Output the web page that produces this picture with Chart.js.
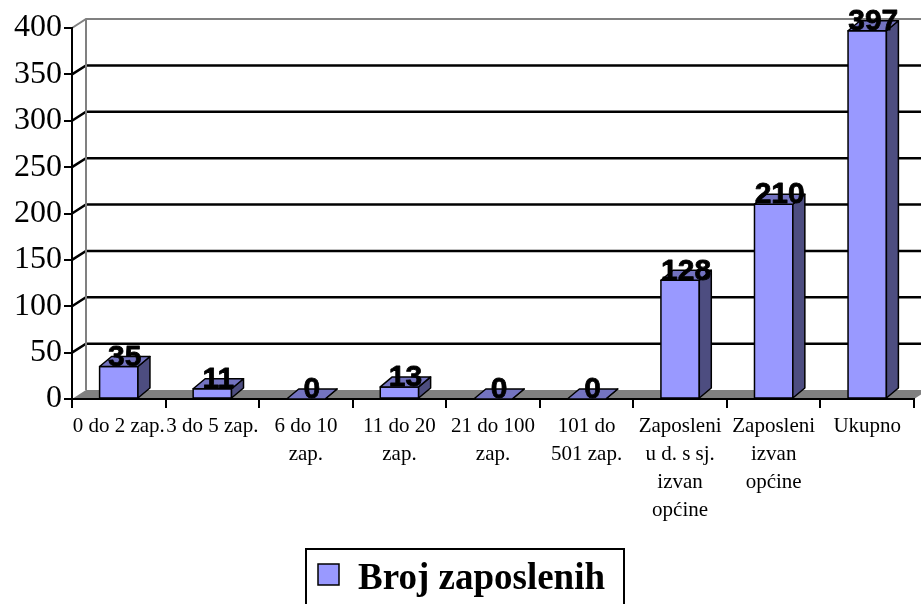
<!DOCTYPE html>
<html>
<head>
<meta charset="utf-8">
<script src="https://cdn.jsdelivr.net/npm/chart.js@4/dist/chart.umd.min.js"></script>
<style>
  html, body { margin: 0; padding: 0; background: #fff; }
  #wrap { width: 921px; height: 604px; }
</style>
</head>
<body>
<div id="wrap"><canvas id="zapChart" width="921" height="604"></canvas></div>
<script>
  // data
  const categories = [
    ["0 do 2 zap."], ["3 do 5 zap."], ["6 do 10", "zap."], ["11 do 20", "zap."],
    ["21 do 100", "zap."], ["101 do", "501 zap."],
    ["Zaposleni", "u d. s sj.", "izvan", "općine"], ["Zaposleni", "izvan", "općine"], ["Ukupno"]
  ];
  const values = [35, 11, 0, 13, 0, 0, 128, 210, 397];
  const seriesName = "Broj zaposlenih";
  const yMax = 400;
  const yStep = 50;

  const frontColor = "#9999FF";
  const topColor = "#7373C0";
  const sideColor = "#4D4D80";
  const wallDx = 14, wallDy = -9;   // depth of the back wall
  const barDx = 12, barDy = -10;    // depth of each bar

  const threeD = {
    id: "threeD",
    beforeDraw(chart) {
      const { ctx, chartArea: a, scales } = chart;
      const y = scales.y;
      ctx.save();
      // floor
      ctx.fillStyle = "#808080";
      ctx.beginPath();
      ctx.moveTo(a.left, a.bottom);
      ctx.lineTo(a.right, a.bottom);
      ctx.lineTo(a.right + wallDx, a.bottom + wallDy);
      ctx.lineTo(a.left + wallDx, a.bottom + wallDy);
      ctx.closePath();
      ctx.fill();
      // gridlines on left wall + back wall
      ctx.strokeStyle = "#000";
      ctx.lineWidth = 2.5;
      for (let v = yStep; v < yMax; v += yStep) {
        const py = y.getPixelForValue(v);
        ctx.beginPath();
        ctx.moveTo(a.left, py);
        ctx.lineTo(a.left + wallDx, py + wallDy);
        ctx.lineTo(a.right + wallDx + 10, py + wallDy);
        ctx.stroke();
      }
      // wall edges
      ctx.strokeStyle = "#808080";
      ctx.lineWidth = 2;
      ctx.beginPath();
      ctx.moveTo(a.left, a.top);
      ctx.lineTo(a.left + wallDx, a.top + wallDy);
      ctx.lineTo(a.right + wallDx + 10, a.top + wallDy);
      ctx.moveTo(a.left + wallDx, a.top + wallDy);
      ctx.lineTo(a.left + wallDx, a.bottom + wallDy);
      ctx.stroke();
      ctx.restore();
    },
    afterDatasetsDraw(chart) {
      const { ctx } = chart;
      const meta = chart.getDatasetMeta(0);
      ctx.save();
      ctx.strokeStyle = "#000";
      ctx.lineWidth = 1.5;
      ctx.lineJoin = "round";
      meta.data.forEach((bar) => {
        const l = bar.x - bar.width / 2, r = bar.x + bar.width / 2;
        const t = bar.y, b = bar.base;
        // front
        ctx.fillStyle = frontColor;
        ctx.fillRect(l, t, r - l, b - t);
        ctx.strokeRect(l, t, r - l, b - t);
        // side
        ctx.fillStyle = sideColor;
        ctx.beginPath();
        ctx.moveTo(r, t); ctx.lineTo(r + barDx, t + barDy);
        ctx.lineTo(r + barDx, b + barDy); ctx.lineTo(r, b);
        ctx.closePath(); ctx.fill(); ctx.stroke();
        // top
        ctx.fillStyle = topColor;
        ctx.beginPath();
        ctx.moveTo(l, t); ctx.lineTo(r, t);
        ctx.lineTo(r + barDx, t + barDy); ctx.lineTo(l + barDx, t + barDy);
        ctx.closePath(); ctx.fill(); ctx.stroke();
      });
      // value labels
      ctx.fillStyle = "#000";
      ctx.strokeStyle = "#000";
      ctx.lineWidth = 0.8;
      ctx.font = "bold 30px 'Liberation Sans', Arial, sans-serif";
      ctx.textAlign = "center";
      ctx.textBaseline = "middle";
      meta.data.forEach((bar, i) => {
        const tx = bar.x + barDx / 2, ty = bar.y + barDy + 1;
        ctx.fillText(String(values[i]), tx, ty);
        ctx.strokeText(String(values[i]), tx, ty);
      });
      ctx.restore();
    },
    afterDraw(chart) {
      const { ctx } = chart;
      ctx.save();
      // legend
      ctx.strokeStyle = "#000";
      ctx.lineWidth = 2;
      ctx.strokeRect(306, 549, 318, 70);
      ctx.fillStyle = frontColor;
      ctx.fillRect(318, 564, 21, 21);
      ctx.lineWidth = 1.5;
      ctx.strokeRect(318, 564, 21, 21);
      ctx.fillStyle = "#000";
      ctx.font = "bold 37px 'Liberation Serif', 'Times New Roman', serif";
      ctx.textAlign = "left";
      ctx.textBaseline = "alphabetic";
      ctx.fillText(chart.data.datasets[0].label, 358, 589);
      ctx.restore();
    }
  };

  const ctx = document.getElementById("zapChart").getContext("2d");
  const zapChart = new Chart(ctx, {
    type: "bar",
    data: {
      labels: categories,
      datasets: [
        {
          label: seriesName,
          data: values,
          backgroundColor: frontColor,
          borderWidth: 0,
          categoryPercentage: 1,
          barPercentage: 0.41,
        },
      ],
    },
    options: {
      responsive: false,
      animation: false,
      layout: { padding: { left: 0, right: 7, top: 28, bottom: 0 } },
      scales: {
        x: {
          grid: { drawOnChartArea: false, drawTicks: true, tickLength: 9, color: "#000", lineWidth: 2, offset: true },
          border: { color: "#000", width: 2 },
          ticks: {
            color: "#000",
            maxRotation: 0,
            autoSkip: false,
            padding: 5,
            font: { family: "'Liberation Serif', 'Times New Roman', serif", size: 21, lineHeight: 1.33 },
          },
          afterFit(scale) { scale.height = 205; },
        },
        y: {
          min: 0,
          max: yMax,
          grid: { drawOnChartArea: false, drawTicks: true, tickLength: 8, color: "#000", lineWidth: 2 },
          border: { color: "#000", width: 2 },
          ticks: {
            stepSize: yStep,
            color: "#000",
            padding: 2,
            font: { family: "'Liberation Serif', 'Times New Roman', serif", size: 32 },
          },
          afterFit(scale) { scale.width = 72; },
        },
      },
      plugins: {
        legend: { display: false },
        tooltip: { enabled: false },
      },
    },
    plugins: [threeD],
  });
</script>
</body>
</html>
